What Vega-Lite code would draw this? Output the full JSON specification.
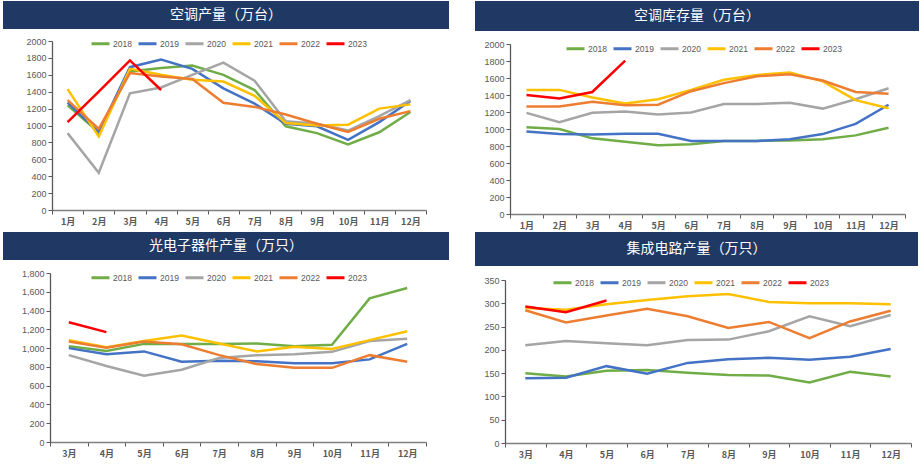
{
  "$schema": "https://vega.github.io/schema/vega-lite/v6.json",
  "padding": {"left": 3, "top": 1, "right": 0, "bottom": 0},
  "background": "white",
  "config": {
    "font": "Noto Sans CJK SC",
    "view": {"stroke": null},
    "axis": {"domainColor": "#595959", "tickColor": "#595959", "labelColor": "#595959", "labelFontSize": 9, "grid": false, "title": null, "domainWidth": 1.3},
    "axisX": {"labelFontWeight": "bold", "labelAngle": 0, "tickBand": "extent", "tickSize": 4, "labelPadding": 3, "labelFont": "Noto Sans CJK SC", "domainColor": "#7F7F7F"},
    "axisY": {"tickSize": 4, "labelPadding": 2, "labelFont": "Liberation Sans", "minExtent": 0},
    "legend": {"orient": "none", "direction": "horizontal", "symbolType": "stroke", "symbolSize": 324, "symbolStrokeWidth": 3, "labelFontSize": 8.5, "labelColor": "#595959", "labelFont": "Liberation Sans", "columnPadding": 0, "labelOffset": 2, "title": null},
    "concat": {"spacing": 0}
  },
  "datasets": {
    "d1": [
      {"m":"1月","s":"2018","v":1240},{"m":"2月","s":"2018","v":920},{"m":"3月","s":"2018","v":1640},{"m":"4月","s":"2018","v":1680},{"m":"5月","s":"2018","v":1710},{"m":"6月","s":"2018","v":1600},{"m":"7月","s":"2018","v":1420},{"m":"8月","s":"2018","v":990},{"m":"9月","s":"2018","v":910},{"m":"10月","s":"2018","v":775},{"m":"11月","s":"2018","v":920},{"m":"12月","s":"2018","v":1160},
      {"m":"1月","s":"2019","v":1270},{"m":"2月","s":"2019","v":920},{"m":"3月","s":"2019","v":1690},{"m":"4月","s":"2019","v":1780},{"m":"5月","s":"2019","v":1670},{"m":"6月","s":"2019","v":1440},{"m":"7月","s":"2019","v":1260},{"m":"8月","s":"2019","v":1020},{"m":"9月","s":"2019","v":990},{"m":"10月","s":"2019","v":830},{"m":"11月","s":"2019","v":1040},{"m":"12月","s":"2019","v":1290},
      {"m":"1月","s":"2020","v":910},{"m":"2月","s":"2020","v":440},{"m":"3月","s":"2020","v":1380},{"m":"4月","s":"2020","v":1450},{"m":"5月","s":"2020","v":1600},{"m":"6月","s":"2020","v":1745},{"m":"7月","s":"2020","v":1530},{"m":"8月","s":"2020","v":1050},{"m":"9月","s":"2020","v":1020},{"m":"10月","s":"2020","v":940},{"m":"11月","s":"2020","v":1110},{"m":"12月","s":"2020","v":1300},
      {"m":"1月","s":"2021","v":1430},{"m":"2月","s":"2021","v":870},{"m":"3月","s":"2021","v":1670},{"m":"4月","s":"2021","v":1600},{"m":"5月","s":"2021","v":1540},{"m":"6月","s":"2021","v":1520},{"m":"7月","s":"2021","v":1350},{"m":"8月","s":"2021","v":1030},{"m":"9月","s":"2021","v":1000},{"m":"10月","s":"2021","v":1010},{"m":"11月","s":"2021","v":1200},{"m":"12月","s":"2021","v":1250},
      {"m":"1月","s":"2022","v":1300},{"m":"2月","s":"2022","v":960},{"m":"3月","s":"2022","v":1620},{"m":"4月","s":"2022","v":1580},{"m":"5月","s":"2022","v":1550},{"m":"6月","s":"2022","v":1270},{"m":"7月","s":"2022","v":1220},{"m":"8月","s":"2022","v":1130},{"m":"9月","s":"2022","v":1020},{"m":"10月","s":"2022","v":925},{"m":"11月","s":"2022","v":1080},{"m":"12月","s":"2022","v":1170},
      {"m":"1月","s":"2023","v":1040},{"m":"2月","s":"2023","v":1400},{"m":"3月","s":"2023","v":1770},{"m":"4月","s":"2023","v":1420}
    ],
    "d2": [
      {"m":"1月","s":"2018","v":1020},{"m":"2月","s":"2018","v":1000},{"m":"3月","s":"2018","v":890},{"m":"4月","s":"2018","v":850},{"m":"5月","s":"2018","v":810},{"m":"6月","s":"2018","v":820},{"m":"7月","s":"2018","v":860},{"m":"8月","s":"2018","v":860},{"m":"9月","s":"2018","v":865},{"m":"10月","s":"2018","v":880},{"m":"11月","s":"2018","v":925},{"m":"12月","s":"2018","v":1015},
      {"m":"1月","s":"2019","v":970},{"m":"2月","s":"2019","v":940},{"m":"3月","s":"2019","v":935},{"m":"4月","s":"2019","v":945},{"m":"5月","s":"2019","v":945},{"m":"6月","s":"2019","v":860},{"m":"7月","s":"2019","v":860},{"m":"8月","s":"2019","v":860},{"m":"9月","s":"2019","v":880},{"m":"10月","s":"2019","v":940},{"m":"11月","s":"2019","v":1060},{"m":"12月","s":"2019","v":1285},
      {"m":"1月","s":"2020","v":1190},{"m":"2月","s":"2020","v":1080},{"m":"3月","s":"2020","v":1190},{"m":"4月","s":"2020","v":1205},{"m":"5月","s":"2020","v":1170},{"m":"6月","s":"2020","v":1195},{"m":"7月","s":"2020","v":1295},{"m":"8月","s":"2020","v":1295},{"m":"9月","s":"2020","v":1310},{"m":"10月","s":"2020","v":1240},{"m":"11月","s":"2020","v":1350},{"m":"12月","s":"2020","v":1480},
      {"m":"1月","s":"2021","v":1460},{"m":"2月","s":"2021","v":1460},{"m":"3月","s":"2021","v":1370},{"m":"4月","s":"2021","v":1300},{"m":"5月","s":"2021","v":1350},{"m":"6月","s":"2021","v":1460},{"m":"7月","s":"2021","v":1580},{"m":"8月","s":"2021","v":1635},{"m":"9月","s":"2021","v":1665},{"m":"10月","s":"2021","v":1560},{"m":"11月","s":"2021","v":1340},{"m":"12月","s":"2021","v":1245},
      {"m":"1月","s":"2022","v":1265},{"m":"2月","s":"2022","v":1265},{"m":"3月","s":"2022","v":1320},{"m":"4月","s":"2022","v":1280},{"m":"5月","s":"2022","v":1285},{"m":"6月","s":"2022","v":1445},{"m":"7月","s":"2022","v":1540},{"m":"8月","s":"2022","v":1620},{"m":"9月","s":"2022","v":1645},{"m":"10月","s":"2022","v":1570},{"m":"11月","s":"2022","v":1435},{"m":"12月","s":"2022","v":1415},
      {"m":"1月","s":"2023","v":1400},{"m":"2月","s":"2023","v":1360},{"m":"3月","s":"2023","v":1435},{"m":"4月","s":"2023","v":1805}
    ],
    "d3": [
      {"m":"3月","s":"2018","v":1020},{"m":"4月","s":"2018","v":970},{"m":"5月","s":"2018","v":1045},{"m":"6月","s":"2018","v":1045},{"m":"7月","s":"2018","v":1045},{"m":"8月","s":"2018","v":1050},{"m":"9月","s":"2018","v":1020},{"m":"10月","s":"2018","v":1035},{"m":"11月","s":"2018","v":1530},{"m":"12月","s":"2018","v":1640},
      {"m":"3月","s":"2019","v":1000},{"m":"4月","s":"2019","v":935},{"m":"5月","s":"2019","v":965},{"m":"6月","s":"2019","v":855},{"m":"7月","s":"2019","v":865},{"m":"8月","s":"2019","v":860},{"m":"9月","s":"2019","v":840},{"m":"10月","s":"2019","v":840},{"m":"11月","s":"2019","v":880},{"m":"12月","s":"2019","v":1045},
      {"m":"3月","s":"2020","v":925},{"m":"4月","s":"2020","v":810},{"m":"5月","s":"2020","v":705},{"m":"6月","s":"2020","v":770},{"m":"7月","s":"2020","v":895},{"m":"8月","s":"2020","v":925},{"m":"9月","s":"2020","v":935},{"m":"10月","s":"2020","v":960},{"m":"11月","s":"2020","v":1075},{"m":"12月","s":"2020","v":1100},
      {"m":"3月","s":"2021","v":1085},{"m":"4月","s":"2021","v":1010},{"m":"5月","s":"2021","v":1075},{"m":"6月","s":"2021","v":1135},{"m":"7月","s":"2021","v":1050},{"m":"8月","s":"2021","v":965},{"m":"9月","s":"2021","v":1015},{"m":"10月","s":"2021","v":990},{"m":"11月","s":"2021","v":1085},{"m":"12月","s":"2021","v":1180},
      {"m":"3月","s":"2022","v":1070},{"m":"4月","s":"2022","v":1005},{"m":"5月","s":"2022","v":1070},{"m":"6月","s":"2022","v":1040},{"m":"7月","s":"2022","v":925},{"m":"8月","s":"2022","v":830},{"m":"9月","s":"2022","v":790},{"m":"10月","s":"2022","v":790},{"m":"11月","s":"2022","v":925},{"m":"12月","s":"2022","v":855},
      {"m":"3月","s":"2023","v":1275},{"m":"4月","s":"2023","v":1170}
    ],
    "d4": [
      {"m":"3月","s":"2018","v":150},{"m":"4月","s":"2018","v":143},{"m":"5月","s":"2018","v":155},{"m":"6月","s":"2018","v":157},{"m":"7月","s":"2018","v":151},{"m":"8月","s":"2018","v":146},{"m":"9月","s":"2018","v":145},{"m":"10月","s":"2018","v":130},{"m":"11月","s":"2018","v":153},{"m":"12月","s":"2018","v":143},
      {"m":"3月","s":"2019","v":139},{"m":"4月","s":"2019","v":140},{"m":"5月","s":"2019","v":165},{"m":"6月","s":"2019","v":149},{"m":"7月","s":"2019","v":172},{"m":"8月","s":"2019","v":180},{"m":"9月","s":"2019","v":183},{"m":"10月","s":"2019","v":179},{"m":"11月","s":"2019","v":185},{"m":"12月","s":"2019","v":202},
      {"m":"3月","s":"2020","v":210},{"m":"4月","s":"2020","v":219},{"m":"5月","s":"2020","v":214},{"m":"6月","s":"2020","v":210},{"m":"7月","s":"2020","v":221},{"m":"8月","s":"2020","v":222},{"m":"9月","s":"2020","v":240},{"m":"10月","s":"2020","v":272},{"m":"11月","s":"2020","v":251},{"m":"12月","s":"2020","v":275},
      {"m":"3月","s":"2021","v":290},{"m":"4月","s":"2021","v":286},{"m":"5月","s":"2021","v":298},{"m":"6月","s":"2021","v":307},{"m":"7月","s":"2021","v":315},{"m":"8月","s":"2021","v":320},{"m":"9月","s":"2021","v":303},{"m":"10月","s":"2021","v":300},{"m":"11月","s":"2021","v":300},{"m":"12月","s":"2021","v":298},
      {"m":"3月","s":"2022","v":285},{"m":"4月","s":"2022","v":259},{"m":"5月","s":"2022","v":274},{"m":"6月","s":"2022","v":288},{"m":"7月","s":"2022","v":272},{"m":"8月","s":"2022","v":247},{"m":"9月","s":"2022","v":260},{"m":"10月","s":"2022","v":225},{"m":"11月","s":"2022","v":261},{"m":"12月","s":"2022","v":284},
      {"m":"3月","s":"2023","v":293},{"m":"4月","s":"2023","v":281},{"m":"5月","s":"2023","v":306}
    ]
  },
  "vconcat": [
    {
      "hconcat": [
        {
          "vconcat": [
            {"width": 446, "height": 28, "view": {"fill": "#1F3864", "stroke": null}, "data": {"values": [{"t": "空调产量（万台）"}]}, "mark": {"type": "text", "color": "white", "fontSize": 14, "font": "Noto Sans CJK SC", "baseline": "middle"}, "encoding": {"text": {"field": "t"}}},
            {
              "width": 446, "height": 169,
              "data": {"name": "d1"},
              "mark": {"type": "line", "strokeWidth": 2.5},
              "encoding": {
                "x": {"field": "m", "type": "ordinal", "sort": ["1月","2月","3月","4月","5月","6月","7月","8月","9月","10月","11月","12月"], "scale": {"type": "band", "paddingInner": 0, "paddingOuter": 0, "range": [49, 423]}},
                "y": {"field": "v", "type": "quantitative", "scale": {"domain": [0, 2000]}, "axis": {"values": [0,200,400,600,800,1000,1200,1400,1600,1800,2000], "format": "d", "offset": -49}},
                "color": {"field": "s", "type": "nominal", "scale": {"domain": ["2018","2019","2020","2021","2022","2023"], "range": ["#70AD47","#4472C4","#A5A5A5","#FFC000","#ED7D31","#FF0000"]}, "legend": {"legendX": 87, "legendY": -8}}
              }
            }
          ],
          "spacing": 4,
          "resolve": {"scale": {"x": "independent", "y": "independent", "color": "independent"}, "legend": {"color": "independent"}}
        },
        {
          "vconcat": [
            {"width": 444, "height": 30, "view": {"fill": "#1F3864", "stroke": null}, "data": {"values": [{"t": "空调库存量（万台）"}]}, "mark": {"type": "text", "color": "white", "fontSize": 14, "font": "Noto Sans CJK SC", "baseline": "middle"}, "encoding": {"text": {"field": "t"}}},
            {
              "width": 444, "height": 170,
              "data": {"name": "d2"},
              "mark": {"type": "line", "strokeWidth": 2.5},
              "encoding": {
                "x": {"field": "m", "type": "ordinal", "sort": ["1月","2月","3月","4月","5月","6月","7月","8月","9月","10月","11月","12月"], "scale": {"type": "band", "paddingInner": 0, "paddingOuter": 0, "range": [35, 430]}},
                "y": {"field": "v", "type": "quantitative", "scale": {"domain": [0, 2000]}, "axis": {"values": [0,200,400,600,800,1000,1200,1400,1600,1800,2000], "format": "d", "offset": -35}},
                "color": {"field": "s", "type": "nominal", "scale": {"domain": ["2018","2019","2020","2021","2022","2023"], "range": ["#70AD47","#4472C4","#A5A5A5","#FFC000","#ED7D31","#FF0000"]}, "legend": {"legendX": 90, "legendY": -6}}
              }
            }
          ],
          "spacing": 7,
          "resolve": {"scale": {"x": "independent", "y": "independent", "color": "independent"}, "legend": {"color": "independent"}}
        }
      ],
      "spacing": 26,
      "resolve": {"scale": {"x": "independent", "y": "independent", "color": "independent"}, "legend": {"color": "independent"}}
    },
    {
      "hconcat": [
        {
          "vconcat": [
            {"width": 446, "height": 28, "view": {"fill": "#1F3864", "stroke": null}, "data": {"values": [{"t": "光电子器件产量（万只）"}]}, "mark": {"type": "text", "color": "white", "fontSize": 14, "font": "Noto Sans CJK SC", "baseline": "middle"}, "encoding": {"text": {"field": "t"}}},
            {
              "width": 446, "height": 169,
              "data": {"name": "d3"},
              "mark": {"type": "line", "strokeWidth": 2.5},
              "encoding": {
                "x": {"field": "m", "type": "ordinal", "sort": ["3月","4月","5月","6月","7月","8月","9月","10月","11月","12月"], "scale": {"type": "band", "paddingInner": 0, "paddingOuter": 0, "range": [47, 423]}},
                "y": {"field": "v", "type": "quantitative", "scale": {"domain": [0, 1800]}, "axis": {"values": [0,200,400,600,800,1000,1200,1400,1600,1800], "format": ",d", "offset": -47}},
                "color": {"field": "s", "type": "nominal", "scale": {"domain": ["2018","2019","2020","2021","2022","2023"], "range": ["#70AD47","#4472C4","#A5A5A5","#FFC000","#ED7D31","#FF0000"]}, "legend": {"legendX": 87, "legendY": -6}}
              }
            }
          ],
          "spacing": 7,
          "resolve": {"scale": {"x": "independent", "y": "independent", "color": "independent"}, "legend": {"color": "independent"}}
        },
        {
          "vconcat": [
            {"width": 443, "height": 34, "view": {"fill": "#1F3864", "stroke": null}, "data": {"values": [{"t": "集成电路产量（万只）"}]}, "mark": {"type": "text", "color": "white", "fontSize": 14, "font": "Noto Sans CJK SC", "baseline": "middle"}, "encoding": {"text": {"field": "t"}}},
            {
              "width": 443, "height": 163,
              "data": {"name": "d4"},
              "mark": {"type": "line", "strokeWidth": 2.5},
              "encoding": {
                "x": {"field": "m", "type": "ordinal", "sort": ["3月","4月","5月","6月","7月","8月","9月","10月","11月","12月"], "scale": {"type": "band", "paddingInner": 0, "paddingOuter": 0, "range": [30, 436]}},
                "y": {"field": "v", "type": "quantitative", "scale": {"domain": [0, 350]}, "axis": {"values": [0,50,100,150,200,250,300,350], "format": "d", "offset": -30}},
                "color": {"field": "s", "type": "nominal", "scale": {"domain": ["2018","2019","2020","2021","2022","2023"], "range": ["#70AD47","#4472C4","#A5A5A5","#FFC000","#ED7D31","#FF0000"]}, "legend": {"legendX": 77, "legendY": -8}}
              }
            }
          ],
          "spacing": 6,
          "resolve": {"scale": {"x": "independent", "y": "independent", "color": "independent"}, "legend": {"color": "independent"}}
        }
      ],
      "spacing": 26,
      "resolve": {"scale": {"x": "independent", "y": "independent", "color": "independent"}, "legend": {"color": "independent"}}
    }
  ],
  "spacing": 2,
  "resolve": {"scale": {"x": "independent", "y": "independent", "color": "independent"}, "legend": {"color": "independent"}}
}
